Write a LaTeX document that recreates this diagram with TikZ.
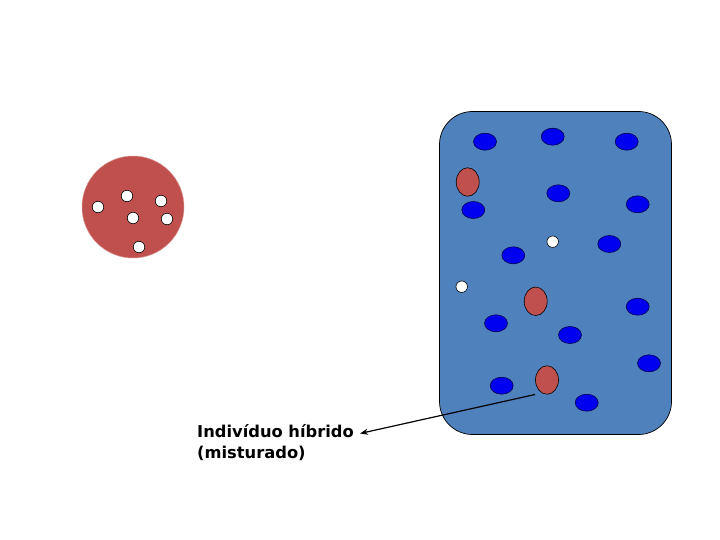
\documentclass[tikz,border=0pt]{standalone}
\usepackage{fontspec}
\setmainfont{DejaVu Sans}
\usetikzlibrary{shapes.geometric,arrows.meta}
\definecolor{pop}{HTML}{4F81BD}
\definecolor{redind}{HTML}{C0504D}
\definecolor{blueind}{HTML}{0000F0}
\tikzset{
  blueell/.style={ellipse,draw=black!70!blue,line width=0.6pt,fill=blueind,minimum width=23pt,minimum height=17pt,inner sep=0pt},
  redell/.style={ellipse,draw=black,line width=0.6pt,fill=redind,minimum width=23pt,minimum height=28.5pt,inner sep=0pt},
  wdot/.style={circle,draw=black,line width=0.6pt,fill=white,minimum size=11.5pt,inner sep=0pt},
  labeltxt/.style={font=\bfseries\fontsize{16.3}{20.5}\selectfont,align=left,inner sep=0pt}
}
\begin{document}
\begin{tikzpicture}[x=1pt,y=-1pt]
\useasboundingbox (0,0) rectangle (720,540);
% isolated red population
\node[circle,fill=redind,draw=redind!60!white,line width=0.5pt,minimum size=102pt,inner sep=0pt] (iso) at (133,207) {};
\foreach \n/\x/\y in {a/98/207,b/127/196,c/161/201,d/133/218,e/167/219,f/139/247}
  \node[wdot] (w\n) at (\x,\y) {};
% blue population
\draw[fill=pop,draw=black,line width=0.7pt,rounded corners=33pt] (439.5,111.5) rectangle (671.5,434.5);
\node[inner sep=0pt] (popbox) at (555.5,273) {};
\foreach \n/\x/\y in {1/485/141.7,2/552.7/136.7,3/626.7/141.7,4/558.3/193.3,5/473.3/210,6/637.7/204.3,7/609.3/244,8/513.3/255.3,9/637.7/306.7,10/496/323.3,11/570/335,12/649/363.3,13/501.7/385.7,14/586.7/402.7}
  \node[blueell] (b\n) at (\x,\y) {};
\node[redell] (r1) at (467.7,182) {};
\node[redell] (r2) at (535.7,301.3) {};
\node[redell] (r3) at (547,380) {};
\node[wdot] (wp1) at (552.7,241.7) {};
\node[wdot] (wp2) at (461.7,286.7) {};
% label
\node[labeltxt,anchor=north west] (lbl) at (197,424.5) {Indivíduo híbrido\\(misturado)};
\coordinate (astart) at (535,394.5);
\coordinate (aend) at (360,433.5);
\draw[line width=1.2pt,-{Stealth[length=8pt,width=6pt]}] (astart) -- (aend);
\end{tikzpicture}
\end{document}
